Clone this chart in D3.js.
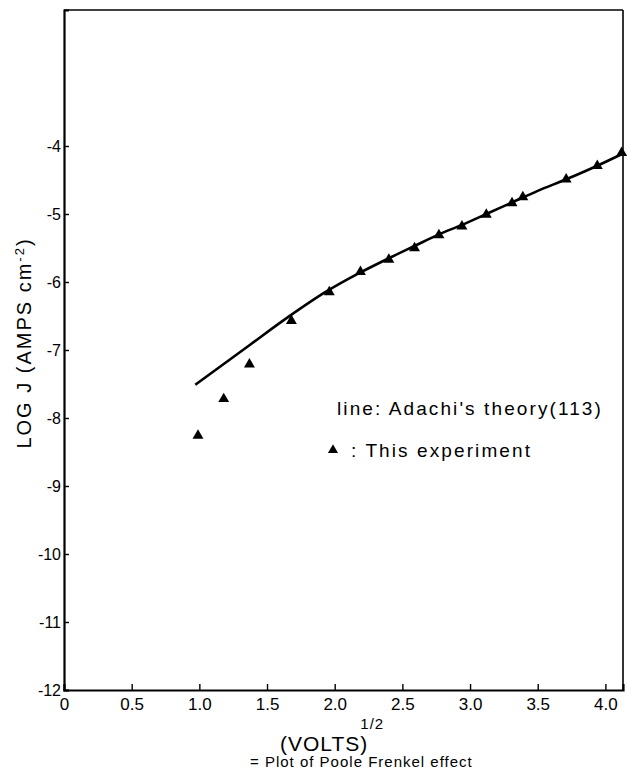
<!DOCTYPE html>
<html>
<head>
<meta charset="utf-8">
<script src="https://cdn.jsdelivr.net/npm/d3@7"></script>
<style>
	body { margin: 0; background: #fff; }
	svg { display: block; font-family: "Liberation Sans", Arial, sans-serif; }
</style>
</head>
<body>
<svg id="pf" width="627" height="769"></svg>
<script>
// measured points (triangles)
var expX = [0.99, 1.18, 1.37, 1.68, 1.96, 2.19, 2.40, 2.59, 2.77, 2.94, 3.12, 3.31, 3.39, 3.71, 3.94, 4.12];
var expY = [-8.26, -7.72, -7.21, -6.57, -6.15, -5.85, -5.67, -5.50, -5.31, -5.18, -5.01, -4.84, -4.75, -4.49, -4.29, -4.10];

// Adachi's theory curve
var theoryX = [0.97, 1.37, 1.66, 1.93, 2.18, 2.39, 2.59, 2.77, 2.94, 3.12, 3.31, 3.50, 3.71, 3.94, 4.12];
var theoryY = [-7.51, -6.93, -6.51, -6.15, -5.87, -5.66, -5.47, -5.30, -5.16, -5.00, -4.83, -4.66, -4.49, -4.29, -4.12];

var xTicks = [0, 0.5, 1.0, 1.5, 2.0, 2.5, 3.0, 3.5, 4.0];
var xTickLabels = ["0", "0.5", "1.0", "1.5", "2.0", "2.5", "3.0", "3.5", "4.0"];
var yTicks = [-4, -5, -6, -7, -8, -9, -10, -11, -12];

var svg = d3.select("#pf"),
	margin = { top: 10, right: 4, bottom: 79, left: 64 },
	width = 627 - margin.left - margin.right,
	height = 769 - margin.top - margin.bottom,
	g = svg.append("g").attr("transform", "translate(" + margin.left + "," + margin.top + ")");

var x = d3.scaleLinear().domain([0, 4.13]).range([0, width]);
var y = d3.scaleLinear().domain([-12, -2]).range([height, 0]);

// frame top and right
g.append("line")
	.attr("x1", 0).attr("x2", width).attr("y1", 0).attr("y2", 0)
	.attr("stroke", "#000").attr("stroke-width", 1.6);
g.append("line")
	.attr("x1", width).attr("x2", width).attr("y1", 0).attr("y2", height)
	.attr("stroke", "#000").attr("stroke-width", 1.6);

var xAxis = g.append("g")
	.attr("transform", "translate(0," + height + ")")
	.call(d3.axisBottom(x).tickValues(xTicks).tickSize(-6).tickPadding(8)
		.tickFormat(function (d, i) { return xTickLabels[i]; }));
xAxis.select(".domain").attr("stroke-width", 2.2);
xAxis.selectAll(".tick line").attr("stroke-width", 1.4);
xAxis.selectAll("text")
	.attr("font-size", "17px")
	.attr("fill", "#000");

var yAxis = g.append("g")
	.call(d3.axisLeft(y).tickValues(yTicks).tickSize(-5).tickPadding(3)
		.tickFormat(function (d) { return "-" + Math.abs(d); }));
yAxis.select(".domain").attr("stroke-width", 2.2);
yAxis.selectAll(".tick line").attr("stroke-width", 1.4);
yAxis.selectAll("text")
	.attr("font-size", "16px")
	.attr("fill", "#000");

// curve
var line = d3.line()
	.x(function (d) { return x(d[0]); })
	.y(function (d) { return y(d[1]); })
	.curve(d3.curveMonotoneX);

g.append("path")
	.datum(d3.zip(theoryX, theoryY))
	.attr("fill", "none")
	.attr("stroke", "#000")
	.attr("stroke-width", 2.6)
	.attr("d", line);

g.selectAll(".pt")
	.data(d3.zip(expX, expY))
	.enter().append("path")
	.attr("class", "pt")
	.attr("transform", function (d) { return "translate(" + x(d[0]) + "," + y(d[1]) + ")"; })
	.attr("d", d3.symbol().type(d3.symbolTriangle).size(52))
	.attr("fill", "#000");

// legend
g.append("text")
	.attr("x", 273)
	.attr("y", 405)
	.attr("font-size", "19px")
	.attr("letter-spacing", "2.1px")
	.text("line: Adachi's theory(113)");

g.append("path")
	.attr("transform", "translate(" + 269 + "," + 440 + ")")
	.attr("d", d3.symbol().type(d3.symbolTriangle).size(44))
	.attr("fill", "#000");
g.append("text")
	.attr("x", 287)
	.attr("y", 447)
	.attr("font-size", "19px")
	.attr("letter-spacing", "2.1px")
	.text(":  This experiment");

// y label
var yl = svg.append("text")
	.attr("transform", "translate(31,343) rotate(-90)")
	.attr("text-anchor", "middle")
	.attr("font-size", "20px")
	.attr("letter-spacing", "2px");
yl.append("tspan").text("LOG J (AMPS cm");
yl.append("tspan").attr("baseline-shift", "super").attr("font-size", "13px").text("-2");
yl.append("tspan").text(")");

// x label
var xl = svg.append("text")
	.attr("x", 280)
	.attr("y", 751)
	.attr("font-size", "21px")
	.attr("letter-spacing", "1px");
xl.append("tspan").text("(VOLTS)");
xl.append("tspan").attr("dx", -8).attr("dy", -22).attr("font-size", "15px").text("1/2");

svg.append("text")
	.attr("x", 250)
	.attr("y", 767)
	.attr("font-size", "15px")
	.attr("letter-spacing", "1px")
	.text("=  Plot of  Poole  Frenkel  effect");
</script>
</body>
</html>
